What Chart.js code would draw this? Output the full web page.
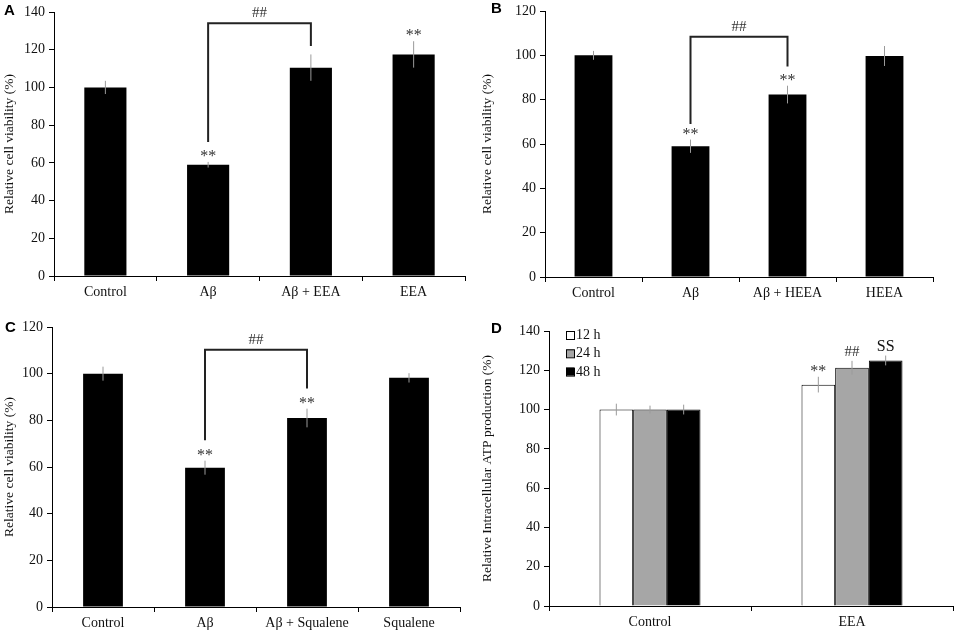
<!DOCTYPE html>
<html>
<head>
<meta charset="utf-8">
<script src="https://cdn.jsdelivr.net/npm/chart.js@4.4.0/dist/chart.umd.min.js"></script>
<style>
  body { margin: 0; background: #fff; }
  #wrap { position: relative; width: 957px; height: 634px; }
  .panel { position: absolute; }
</style>
</head>
<body>
<div id="wrap">
  <div class="panel" style="left:0;top:0;width:478px;height:310px"><canvas id="chartA"></canvas></div>
  <div class="panel" style="left:478px;top:0;width:479px;height:310px"><canvas id="chartB"></canvas></div>
  <div class="panel" style="left:0;top:310px;width:478px;height:324px"><canvas id="chartC"></canvas></div>
  <div class="panel" style="left:478px;top:310px;width:479px;height:324px"><canvas id="chartD"></canvas></div>
</div>
<script>
// panel A
const labelsA = ['Control', 'Aβ', 'Aβ + EEA', 'EEA'];
const valuesA = [100, 59, 110.5, 117.5];
const errorsA = [3.5, 1.5, 7, 7];
const marksA = ['', '**', '', '**'];

// panel B
const labelsB = ['Control', 'Aβ', 'Aβ + HEEA', 'HEEA'];
const valuesB = [100, 59, 82.3, 99.7];
const errorsB = [2, 3, 4, 4.5];
const marksB = ['', '**', '**', ''];

// panel C
const labelsC = ['Control', 'Aβ', 'Aβ + Squalene', 'Squalene'];
const valuesC = [100, 59.7, 81, 98.2];
const errorsC = [3, 3, 4, 2];
const marksC = ['', '**', '**', ''];

// panel D
const labelsD = ['Control', 'EEA'];
const seriesD = ['12 h', '24 h', '48 h'];
const values12 = [100, 112.7];
const values24 = [100, 121.3];
const values48 = [100, 125];
const errors12 = [3, 4];
const errors24 = [2, 3.5];
const errors48 = [2.5, 2.5];
const marks12 = ['', '**'];
const marks24 = ['', '##'];
const marks48 = ['', 'SS'];

const serif = 'Liberation Serif';

function drawMark(ctx, text, x, bottom, size, color) {
    ctx.font = size + 'px "' + serif + '"';
    ctx.fillStyle = color;
    ctx.textAlign = 'center';
    ctx.textBaseline = 'alphabetic';
    let m = ctx.measureText(text);
    ctx.fillText(text, x, bottom - m.actualBoundingBoxDescent);
}

const extras = {
    id: 'extras',
    afterDatasetsDraw(chart, args, opts) {
        let ctx = chart.ctx;
        let y = chart.scales.y;
        ctx.save();
        chart.data.datasets.forEach((ds, di) => {
            let meta = chart.getDatasetMeta(di);
            meta.data.forEach((bar, i) => {
                let v = ds.data[i], e = ds.errors[i];
                let top = y.getPixelForValue(v + e);
                let bot = y.getPixelForValue(v - e);
                ctx.strokeStyle = '#9a9a9a';
                ctx.lineWidth = 1;
                ctx.beginPath();
                ctx.moveTo(bar.x, top);
                ctx.lineTo(bar.x, bot);
                ctx.stroke();
                let mk = ds.marks[i];
                if (mk) {
                    let size = mk === 'SS' ? 16 : (mk === '**' ? 16 : 15);
                    drawMark(ctx, mk, bar.x, top - 5, size, mk === 'SS' ? '#111' : '#333');
                }
            });
        });

        // significance bracket
        if (opts.bracket) {
            let b = opts.bracket;
            let bars = chart.getDatasetMeta(0).data;
            let x1 = bars[b.from].x, x2 = bars[b.to].x;
            let yTop = y.getPixelForValue(b.top);
            ctx.strokeStyle = '#222';
            ctx.lineWidth = 2;
            ctx.beginPath();
            ctx.moveTo(x1, y.getPixelForValue(b.start));
            ctx.lineTo(x1, yTop);
            ctx.lineTo(x2, yTop);
            ctx.lineTo(x2, y.getPixelForValue(b.end));
            ctx.stroke();
            drawMark(ctx, b.text, (x1 + x2) / 2, yTop - 6, 15, '#333');
        }

        // legend (panel D)
        if (opts.legend) {
            let lg = opts.legend;
            chart.data.datasets.forEach((ds, di) => {
                let ty = lg.y + di * lg.step;
                ctx.fillStyle = ds.backgroundColor;
                ctx.fillRect(lg.x, ty, 8, 8);
                ctx.strokeStyle = '#000';
                ctx.lineWidth = 1;
                ctx.strokeRect(lg.x + 0.5, ty + 0.5, 8, 8);
                ctx.font = '14px "' + serif + '"';
                ctx.fillStyle = '#111';
                ctx.textAlign = 'left';
                ctx.textBaseline = 'middle';
                ctx.fillText(ds.label, lg.x + 10, ty + 4.5);
            });
        }

        // panel letter
        ctx.font = 'bold 15px "Liberation Sans"';
        ctx.fillStyle = '#000';
        ctx.textAlign = 'left';
        ctx.textBaseline = 'alphabetic';
        ctx.fillText(opts.letter.text, opts.letter.x, opts.letter.y);
        ctx.restore();
    }
};

function makeOptions(cfg) {
    return {
        responsive: true,
        maintainAspectRatio: false,
        animation: false,
        layout: {
            padding: { left: 0, top: cfg.top, right: cfg.right, bottom: 0 }
        },
        plugins: {
            legend: { display: false },
            tooltip: { enabled: false },
            extras: {
                bracket: cfg.bracket,
                legend: cfg.legend,
                letter: cfg.letter
            }
        },
        scales: {
            x: {
                afterFit: s => { s.height = cfg.xHeight; },
                border: { color: '#000', width: 1 },
                grid: { offset: true, drawOnChartArea: false, drawTicks: true, tickLength: 5, color: '#000' },
                ticks: { color: '#111', padding: 3, font: { family: serif, size: 14 } }
            },
            y: {
                min: 0,
                max: cfg.max,
                afterFit: s => { s.width = cfg.yWidth; },
                border: { color: '#000', width: 1 },
                grid: { drawOnChartArea: false, drawTicks: true, tickLength: 5, color: '#000' },
                ticks: { stepSize: 20, color: '#111', padding: 4, font: { family: serif, size: 14, lineHeight: 1 } },
                title: {
                    display: true,
                    text: cfg.yTitle,
                    color: '#111',
                    padding: { top: 1, bottom: 0 },
                    font: { family: serif, size: 13.5 }
                }
            }
        }
    };
}

function singleChart(id, labels, values, errors, marks, cfg) {
    new Chart(document.getElementById(id), {
        type: 'bar',
        data: {
            labels: labels,
            datasets: [{
                data: values,
                errors: errors,
                marks: marks,
                backgroundColor: '#000',
                borderWidth: 0,
                barPercentage: cfg.barPct,
                categoryPercentage: 1
            }]
        },
        options: makeOptions(cfg),
        plugins: [extras]
    });
}

singleChart('chartA', labelsA, valuesA, errorsA, marksA, {
    max: 140, top: 12, right: 13, xHeight: 34, yWidth: 54, barPct: 0.41,
    yTitle: 'Relative cell viability (%)',
    bracket: { from: 1, to: 2, start: 71, top: 134, end: 122, text: '##' },
    letter: { text: 'A', x: 4, y: 15 }
});

singleChart('chartB', labelsB, valuesB, errorsB, marksB, {
    max: 120, top: 7, right: 24, xHeight: 33, yWidth: 67, barPct: 0.39,
    yTitle: 'Relative cell viability (%)',
    bracket: { from: 1, to: 2, start: 69, top: 108.4, end: 95, text: '##' },
    letter: { text: 'B', x: 13, y: 13 }
});

singleChart('chartC', labelsC, valuesC, errorsC, marksC, {
    max: 120, top: 17, right: 18, xHeight: 27, yWidth: 52, barPct: 0.39,
    yTitle: 'Relative cell viability (%)',
    bracket: { from: 1, to: 2, start: 71.5, top: 110.3, end: 93.6, text: '##' },
    letter: { text: 'C', x: 5, y: 22 }
});

new Chart(document.getElementById('chartD'), {
    type: 'bar',
    data: {
        labels: labelsD,
        datasets: [
            { label: seriesD[0], data: values12, errors: errors12, marks: marks12, backgroundColor: '#ffffff', borderColor: '#000', borderWidth: 1 },
            { label: seriesD[1], data: values24, errors: errors24, marks: marks24, backgroundColor: '#a6a6a6', borderColor: '#000', borderWidth: 1 },
            { label: seriesD[2], data: values48, errors: errors48, marks: marks48, backgroundColor: '#000000', borderColor: '#000', borderWidth: 1 }
        ]
    },
    options: (() => {
        let o = makeOptions({
            max: 140, top: 21, right: 4, xHeight: 28, yWidth: 71,
            yTitle: 'Relative Intracellular ATP production (%)',
            legend: { x: 88, y: 21, step: 18.3 },
            letter: { text: 'D', x: 13, y: 23 }
        });
        o.datasets = { bar: { barPercentage: 1, categoryPercentage: 0.5 } };
        return o;
    })(),
    plugins: [extras]
});
</script>
</body>
</html>
